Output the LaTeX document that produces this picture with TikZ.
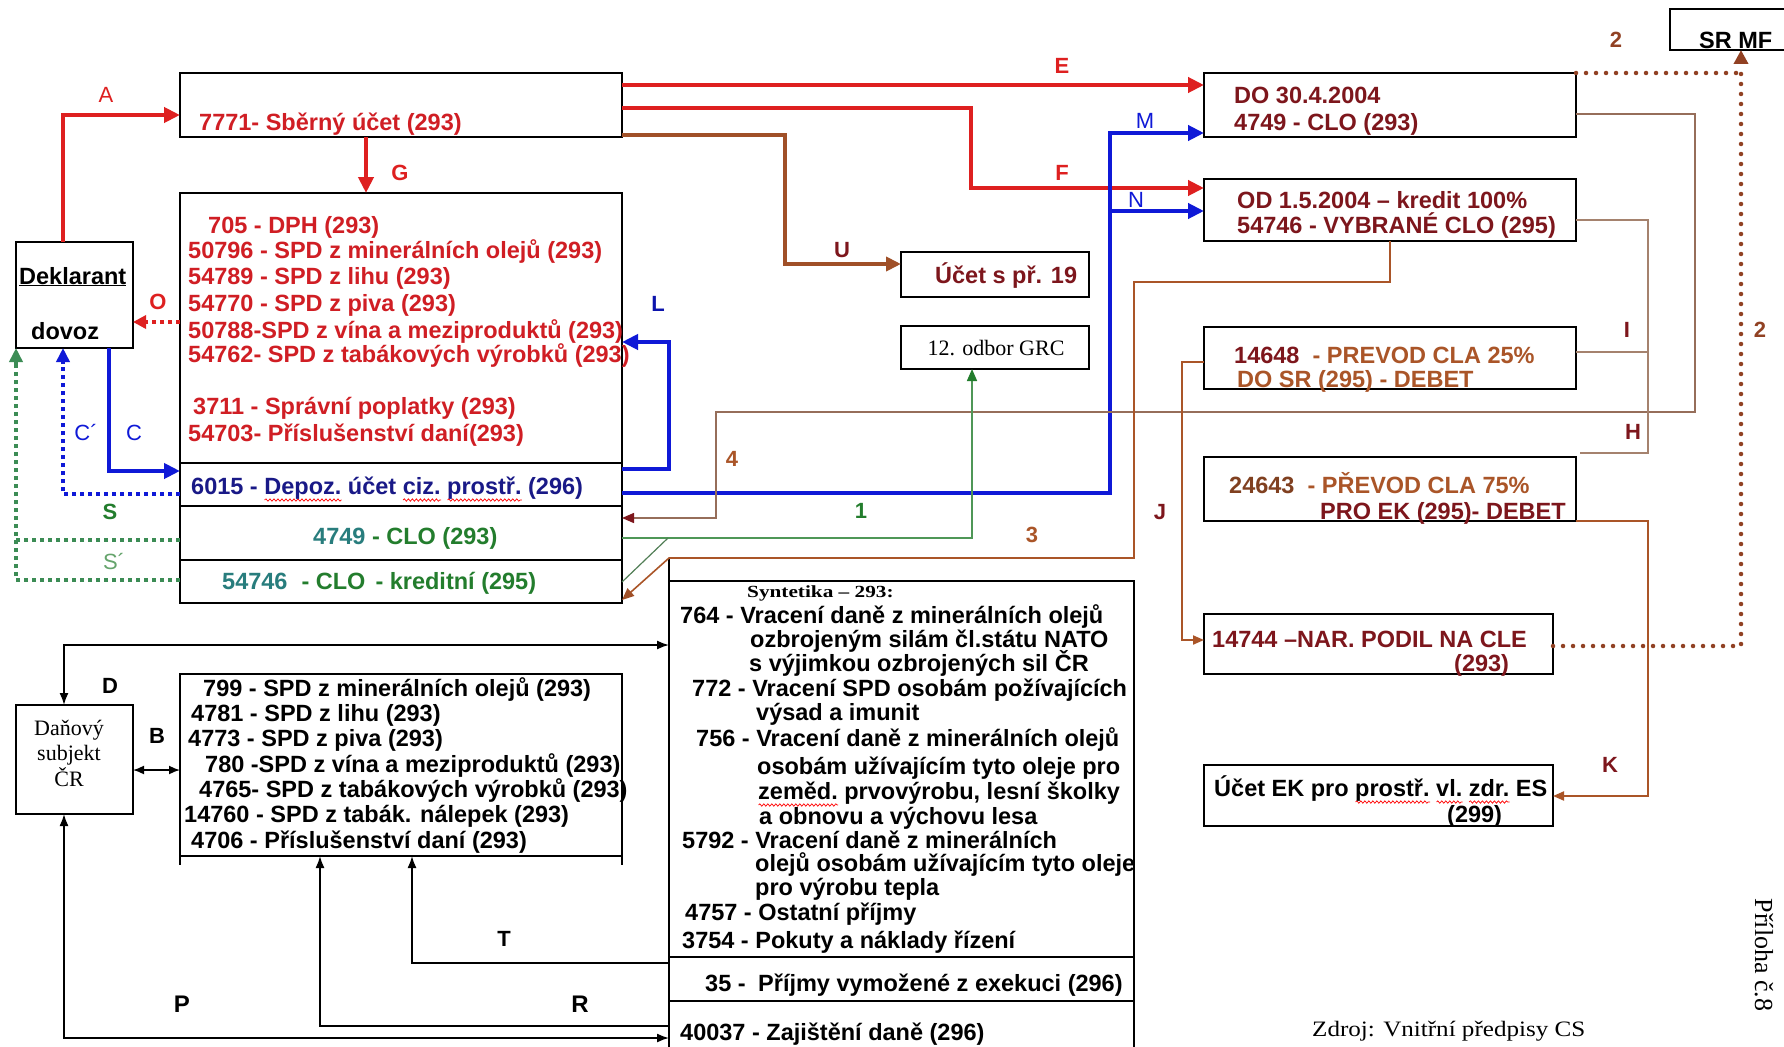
\documentclass[tikz,border=0pt]{standalone}
\usepackage{fontspec}
\setmainfont{Liberation Sans}
\newfontfamily\seriffont{Liberation Serif}
\usepackage{graphicx}
\usetikzlibrary{arrows.meta,decorations.pathmorphing}
\definecolor{txtred}{RGB}{208,30,36}
\definecolor{arrred}{RGB}{222,32,32}
\definecolor{maroonc}{RGB}{125,22,28}
\definecolor{sienna}{RGB}{160,80,40}
\definecolor{brownt}{RGB}{170,85,40}
\definecolor{navyc}{RGB}{25,25,135}
\definecolor{bluec}{RGB}{15,25,215}
\definecolor{greenc}{RGB}{35,125,45}
\definecolor{tealc}{RGB}{40,125,125}
\definecolor{greendot}{RGB}{60,140,85}
\definecolor{dotbrown}{RGB}{145,65,35}
\definecolor{hcol}{RGB}{165,130,110}
\definecolor{linefour}{RGB}{150,110,90}
\newcommand\spl[1]{\setbox0=\hbox{#1}\rlap{\raisebox{-6pt}[0pt][0pt]{\tikz[baseline=0pt,x=1pt,y=1pt]\draw[red,line width=0.7pt,decorate,decoration={snake,amplitude=1.2pt,segment length=4pt}] (0,0) -- (\the\wd0,0);}}\box0\relax}
\begin{document}
\begin{tikzpicture}[x=1pt,y=-1pt,
  box/.style={draw=black,line width=1.4pt,inner sep=0pt,outer sep=0pt,anchor=north west},
  tx/.style={anchor=west,inner sep=0pt,font=\fontsize{23.5}{26}\selectfont\bfseries,text height=19pt,text depth=1pt},
  lab/.style={inner sep=0pt,font=\fontsize{22}{24}\selectfont\bfseries},
  labn/.style={inner sep=0pt,font=\fontsize{22}{24}\selectfont},
  redln/.style={draw=arrred,line width=4.5pt,-{Triangle[length=16pt,width=15pt]}},
  blueln/.style={draw=bluec,line width=4.5pt,-{Triangle[length=16pt,width=15pt]}},
  brownln/.style={draw=sienna,line width=4pt,-{Triangle[length=15pt,width=14pt]}},
  reddot/.style={draw=arrred,line width=4pt,dash pattern=on 4pt off 4pt,-{Triangle[length=13pt,width=13pt]}},
  bluedot/.style={draw=bluec,line width=4pt,dash pattern=on 4pt off 4pt},
  greendotted/.style={draw=greendot,line width=4pt,dash pattern=on 4pt off 4pt},
  browndotted/.style={draw=dotbrown,line width=4.5pt,line cap=round,dash pattern=on 0pt off 10pt},
  thinbr/.style={draw=brownt,line width=2pt},
  thinbk/.style={draw=black,line width=1.6pt},
  hln/.style={draw=hcol,line width=1.3pt},
]
\useasboundingbox[fill=white] (0,0) rectangle (1784,1046);

% ---------- boxes ----------
\node[box,minimum width=130pt,minimum height=41pt] (srmf) at (1670,9) {};
\node[box,minimum width=442pt,minimum height=64pt] (s7771) at (180,73) {};
\node[box,minimum width=442pt,minimum height=270pt] (big) at (180,193) {};
\node[box,minimum width=442pt,minimum height=43pt] (r6015) at (180,463) {};
\node[box,minimum width=442pt,minimum height=54pt] (r4749) at (180,506) {};
\node[box,minimum width=442pt,minimum height=43pt] (r54746) at (180,560) {};
\node[box,minimum width=372pt,minimum height=64pt] (do) at (1204,73) {};
\node[box,minimum width=372pt,minimum height=62pt] (od) at (1204,179) {};
\node[box,minimum width=188pt,minimum height=45pt] (ucet19) at (901,252) {};
\node[box,minimum width=188pt,minimum height=43pt] (grc) at (901,326) {};
\node[box,minimum width=372pt,minimum height=62pt] (p14648) at (1204,327) {};
\node[box,minimum width=372pt,minimum height=64pt] (p24643) at (1204,457) {};
\node[box,minimum width=349pt,minimum height=60pt] (p14744) at (1204,614) {};
\node[box,minimum width=349pt,minimum height=61pt] (ek) at (1204,765) {};
\node[box,minimum width=117pt,minimum height=106pt] (dekl) at (16,242) {};
\node[box,minimum width=117pt,minimum height=109pt] (dan) at (16,705) {};
\node[box,minimum width=442pt,minimum height=182pt] (spd) at (180,674) {};
\node[box,minimum width=465pt,minimum height=376pt] (synt) at (669,581) {};
\node[box,minimum width=465pt,minimum height=44pt] (r35) at (669,957) {};
\node[box,minimum width=465pt,minimum height=60pt] (r40037) at (669,1001) {};
\draw[line width=1.4pt] (spd.south west) -- ++(0,9);
\draw[line width=1.4pt] (spd.south east) -- ++(0,9);
\draw[line width=1.4pt] (synt.north west) -- ++(0,-23);

% ---------- texts ----------
\node[tx,text=txtred] (t7771) at (199,122) {7771- Sběrný účet (293)};
\begin{scope}[every node/.append style={text=txtred}]
\node[tx] (t705) at (208,224) {705 - DPH (293)};
\node[tx] (t50796) at (188,249) {50796 - SPD z minerálních olejů (293)};
\node[tx] (t54789) at (188,275) {54789 - SPD z lihu (293)};
\node[tx] (t54770) at (188,302) {54770 - SPD z piva (293)};
\node[tx] (t50788) at (188,329) {50788-SPD z vína a meziproduktů (293)};
\node[tx] (t54762) at (188,353) {54762- SPD z tabákových výrobků (293)};
\node[tx] (t3711) at (193,405) {3711 - Správní poplatky (293)};
\node[tx] (t54703) at (188,432) {54703- Příslušenství daní(293)};
\end{scope}
\node[tx,text=navyc] (t6015) at (191,485) {6015 - \spl{Depoz.} účet \spl{ciz.} \spl{prostř.} (296)};
\node[tx] (t4749) at (313,535) {\textcolor{tealc}{4749} \textcolor{greenc}{- CLO (293)}};
\node[tx] (t54746) at (222,580) {\textcolor{tealc}{54746}\hspace{14pt}\textcolor{greenc}{- CLO\hspace{10pt}- kreditní (295)}};

\node[tx] (tdekl) at (19,275) {\underline{Deklarant}};
\node[tx] (tdovoz) at (31,330) {dovoz};
\node[inner sep=0pt,align=center,font=\seriffont\fontsize{22}{25.5}\selectfont] (tdan) at (69,753) {Daňový\\subjekt\\ČR};

\node[tx] (t799) at (203,687) {799 - SPD z minerálních olejů (293)};
\node[tx] (t4781) at (191,712) {4781 - SPD z lihu (293)};
\node[tx] (t4773) at (188,737) {4773 - SPD z piva (293)};
\node[tx] (t780) at (205,763) {780 -SPD z vína a meziproduktů (293)};
\node[tx] (t4765) at (199,788) {4765- SPD z tabákových výrobků (293)};
\node[tx] (t14760) at (184,813) {14760 - SPD z tabák. nálepek (293)};
\node[tx] (t4706) at (191,839) {4706 - Příslušenství daní (293)};

\node[anchor=west,inner sep=0pt] (tsyn) at (747,593) {\seriffont\bfseries\fontsize{17}{19}\selectfont\scalebox{1.25}[1]{Syntetika – 293:}};
\node[tx] (s1) at (680,614) {764 - Vracení daně z minerálních olejů};
\node[tx] (s2) at (750,638) {ozbrojeným silám čl.státu NATO};
\node[tx] (s3) at (749,662) {s výjimkou ozbrojených sil ČR};
\node[tx] (s4) at (692,687) {772 - Vracení SPD osobám požívajících};
\node[tx] (s5) at (756,711) {výsad a imunit};
\node[tx] (s6) at (696,737) {756 - Vracení daně z minerálních olejů};
\node[tx] (s7) at (757,765) {osobám užívajícím tyto oleje pro};
\node[tx] (s8) at (758,790) {\spl{zeměd.} prvovýrobu, lesní školky};
\node[tx] (s9) at (759,815) {a obnovu a výchovu lesa};
\node[tx] (s10) at (682,839) {5792 - Vracení daně z minerálních};
\node[tx] (s11) at (755,862) {olejů osobám užívajícím tyto oleje};
\node[tx] (s12) at (755,886) {pro výrobu tepla};
\node[tx] (s13) at (685,911) {4757 - Ostatní příjmy};
\node[tx] (s14) at (682,939) {3754 - Pokuty a náklady řízení};
\node[tx] (s15) at (705,982) {35 -\hspace{6pt} Příjmy vymožené z exekuci (296)};
\node[tx] (s16) at (680,1031) {40037 - Zajištění daně (296)};

\node[tx] (tsrmf) at (1699,40) {SR MF};
\node[tx,text=maroonc] (tdo1) at (1234,94) {DO 30.4.2004};
\node[tx,text=maroonc] (tdo2) at (1234,122) {4749 - CLO (293)};
\node[tx,text=maroonc] (tod1) at (1237,199) {OD 1.5.2004 – kredit 100\%};
\node[tx,text=maroonc] (tod2) at (1237,224) {54746 - VYBRANÉ CLO (295)};
\node[tx,text=maroonc] (tu19) at (935,274) {Účet s př. 19};
\node[inner sep=0pt,font=\seriffont\fontsize{22}{24}\selectfont] (tgrc) at (996,348) {12. odbor GRC};
\node[tx] (tp1) at (1234,354) {\textcolor{maroonc}{14648}\textcolor{brownt}{\ \ - PREVOD CLA 25\%}};
\node[tx,text=brownt] (tp2) at (1237,378) {DO SR (295) - DEBET};
\node[tx] (tq1) at (1229,484) {\textcolor{sienna!80!black}{24643}\textcolor{brownt}{\ \ - PŘEVOD CLA 75\%}};
\node[tx,text=maroonc] (tq2) at (1320,510) {PRO EK (295)- DEBET};
\node[tx,text=maroonc] (tn1) at (1212,638) {14744 –NAR. PODIL NA CLE};
\node[tx,text=maroonc] (tn2) at (1454,662) {(293)};
\node[tx] (te1) at (1214,787) {Účet EK pro \spl{prostř.} \spl{vl.} \spl{zdr.} ES};
\node[tx] (te2) at (1447,813) {(299)};

\node[anchor=west,inner sep=0pt,font=\seriffont\fontsize{22}{24}\selectfont] (tzdroj) at (1312,1031) {\scalebox{1.14}[1]{Zdroj: Vnitřní předpisy CS}};
\node[inner sep=0pt,rotate=-90,font=\seriffont\fontsize{26}{28}\selectfont] (tpril) at (1764,955) {Příloha č.8};

% ---------- connectors ----------
\draw[redln] (s7771.east |- 0,85) -- (do.west |- 0,85);
\draw[redln] (s7771.east |- 0,108) -| (971,188) -- (od.west |- 0,188);
\draw[brownln] (s7771.east |- 0,135) -| (785,264) -- (ucet19.west |- 0,264);
\draw[redln] (dekl.north -| 63,0) |- (s7771.west |- 0,115);
\draw[redln] (s7771.south -| 366,0) -- (big.north -| 366,0);
\draw[reddot] (big.west |- 0,322) -- (dekl.east |- 0,322);
\draw[blueln] (r6015.east |- 0,469) -| (669,342) -- (big.east |- 0,342);
\draw[blueln] (dekl.south -| 109,0) |- (r6015.west |- 0,471);
\draw[bluedot] (r6015.west |- 0,494) -| (63,362);
\draw[bluec,line width=4pt,-{Triangle[length=14pt,width=13pt]}] (63,364) -- (dekl.south -| 63,0);
\draw[greendotted] (r4749.west |- 0,540) -| (16,362);
\draw[greendotted] (r54746.west |- 0,580) -| (16,540);
\draw[greendot,line width=4pt,-{Triangle[length=14pt,width=13pt]}] (16,364) -- (dekl.south west);
\coordinate (mn) at (1110,211);
\draw[blueln] (r6015.east |- 0,493) -| (1110,133) -- (do.west |- 0,133);
\draw[blueln] (mn) -- (od.west |- 0,211);
\draw[draw=linefour,line width=1.5pt,-{Triangle[length=12pt,width=10pt,color=maroonc]}] (do.east |- 0,114) -| (1695,412) -| (716,518) -- (r4749.east |- 0,518);
\draw[draw=greenc!80!white,line width=1.5pt,-{Triangle[length=12pt,width=10pt,color=greenc]}] (r4749.east |- 0,538) -| (grc.south -| 972,0);
\coordinate (g1) at (668,538);
\draw[draw=greenc!50!gray,line width=1.2pt] (r54746.east |- 0,582) -- (g1);
\draw[draw=brownt,line width=1.6pt,-{Triangle[length=12pt,width=10pt,color=sienna]}] (od.south -| 1390,0) |- (1134,282) |- (669,558) -- (r54746.east |- 0,600);
\draw[thinbr,-{Triangle[length=11pt,width=9pt]}] (p14648.west |- 0,362) -| (1182,640) -- (p14744.west |- 0,640);
\coordinate (hend) at (1580,453);
\draw[hln] (od.east |- 0,220) -| (1648,453) -- (hend);
\draw[hln] (p14648.east |- 0,352) -- (1648,352);
\draw[thinbr,-{Triangle[length=11pt,width=9pt]}] (p24643.south east) -| (1648,796) -- (ek.east |- 0,796);
\draw[browndotted] (p14744.east |- 0,646) -| (1741,66);
\draw[browndotted] (do.north east) -- (1741,73);
\draw[dotbrown,line width=4pt,-{Triangle[length=14pt,width=14pt]}] (1741,64) -- (srmf.south -| 1741,0);
\draw[thinbk,{Latex[length=12pt,width=9pt]}-{Latex[length=12pt,width=9pt]}] (dan.north -| 64,0) |- (synt.west |- 0,645);
\draw[thinbk,{Latex[length=11pt,width=9pt]}-{Latex[length=11pt,width=9pt]}] (dan.east |- 0,770) -- (spd.west |- 0,770);
\draw[thinbk,{Latex[length=12pt,width=9pt]}-{Latex[length=12pt,width=9pt]}] (dan.south -| 64,0) |- (r40037.west |- 0,1038);
\draw[thinbk,-{Latex[length=12pt,width=9pt]}] (r40037.west |- 0,1026) -| (spd.south -| 320,0);
\draw[thinbk,-{Latex[length=12pt,width=9pt]}] (r35.west |- 0,963) -| (spd.south -| 412,0);

% ---------- labels ----------
\node[labn,text=arrred] (lA) at (106,95) {A};
\node[lab,text=arrred] (lE) at (1062,66) {E};
\node[lab,text=arrred] (lF) at (1062,173) {F};
\node[lab,text=arrred] (lG) at (400,173) {G};
\node[lab,text=arrred] (lO) at (158,302) {O};
\node[lab,text=maroonc] (lU) at (842,250) {U};
\node[lab,text=bluec!80!black] (lL) at (658,304) {L};
\node[labn,text=bluec] (lC) at (134,433) {C};
\node[labn,text=bluec] (lCp) at (86,433) {C´};
\node[lab,text=greenc] (lS) at (110,512) {S};
\node[labn,text=greenc!70!white] (lSp) at (114,562) {S´};
\node[labn,text=bluec] (lM) at (1145,121) {M};
\node[labn,text=bluec] (lN) at (1136,200) {N};
\node[lab,text=brownt] (l4) at (732,459) {4};
\node[lab,text=greenc] (l1) at (861,511) {1};
\node[lab,text=brownt] (l3) at (1032,535) {3};
\node[lab,text=maroonc] (lJ) at (1160,512) {J};
\node[lab,text=maroonc] (lI) at (1627,330) {I};
\node[lab,text=maroonc] (lH) at (1633,432) {H};
\node[lab,text=maroonc] (lK) at (1610,765) {K};
\node[lab,text=dotbrown] (l2a) at (1616,40) {2};
\node[lab,text=dotbrown] (l2b) at (1760,330) {2};
\node[lab] (lD) at (110,686) {D};
\node[lab] (lB) at (157,736) {B};
\node[lab] (lT) at (504,939) {T};
\node[lab,font=\fontsize{24}{26}\selectfont\bfseries] (lP) at (182,1004) {P};
\node[lab,font=\fontsize{24}{26}\selectfont\bfseries] (lR) at (580,1004) {R};
\end{tikzpicture}
\end{document}
